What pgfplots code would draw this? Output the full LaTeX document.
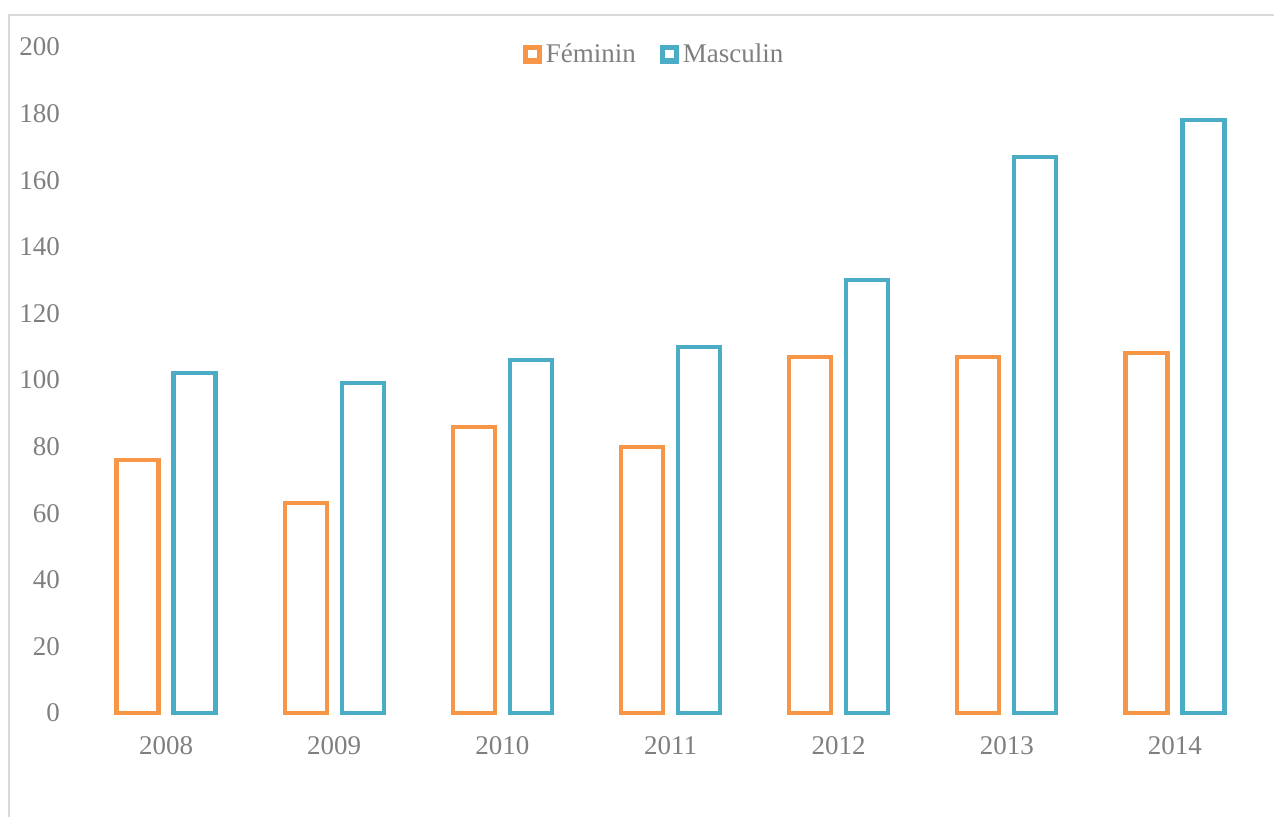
\documentclass[border=0pt]{standalone}
\usepackage{fontspec}
\setmainfont{Liberation Serif}
\usepackage{pgfplots}
\pgfplotsset{compat=1.18}
\definecolor{fem}{HTML}{F79646}
\definecolor{mas}{HTML}{4BACC6}
\definecolor{txt}{HTML}{7F7F7F}
\definecolor{framec}{HTML}{D9D9D9}
\begin{document}
\begin{tikzpicture}
\useasboundingbox (0,0) rectangle (637pt,408pt);
\draw[framec, line width=1pt] (4.5pt,-5pt) -- (4.5pt,400.5pt) -- (650pt,400.5pt);
\begin{axis}[
  at={(41pt,51.5pt)}, anchor=south west, scale only axis,
  width=588.5pt, height=333pt,
  xmin=-0.5, xmax=6.5, ymin=0, ymax=200,
  ytick={0,20,...,200}, xtick={0,...,6},
  xticklabels={2008,2009,2010,2011,2012,2013,2014},
  axis line style={draw=none}, major tick length=0pt,
  ybar, bar width=21pt, clip=false,
  tick label style={font=\fontsize{13.5}{16}\selectfont, text=txt},
  /pgf/number format/assume math mode=true,
  yticklabel style={xshift=-7.5pt}, xticklabel style={yshift=-8pt},
  legend style={at={(0.487,0.989)}, anchor=center, draw=none, fill=none,
    legend columns=2, font=\fontsize{13.5}{16}\selectfont, text=txt,
    /tikz/every even column/.append style={column sep=10pt},
    inner sep=0pt},
  legend image code/.code={\draw[line width=2.7pt,fill=white] (0pt,-3.4pt) rectangle (6.8pt,3.4pt);},
]
\addplot[draw=fem, fill=white, line width=2.1pt, bar shift=-14.25pt] coordinates {
(0,76) (1,63) (2,86) (3,80) (4,107) (5,107) (6,108)};
\addplot[draw=mas, fill=white, line width=2.1pt, bar shift=14.25pt] coordinates {
(0,102) (1,99) (2,106) (3,110) (4,130) (5,167) (6,178)};
\legend{Féminin,Masculin}
\end{axis}
\end{tikzpicture}
\end{document}
